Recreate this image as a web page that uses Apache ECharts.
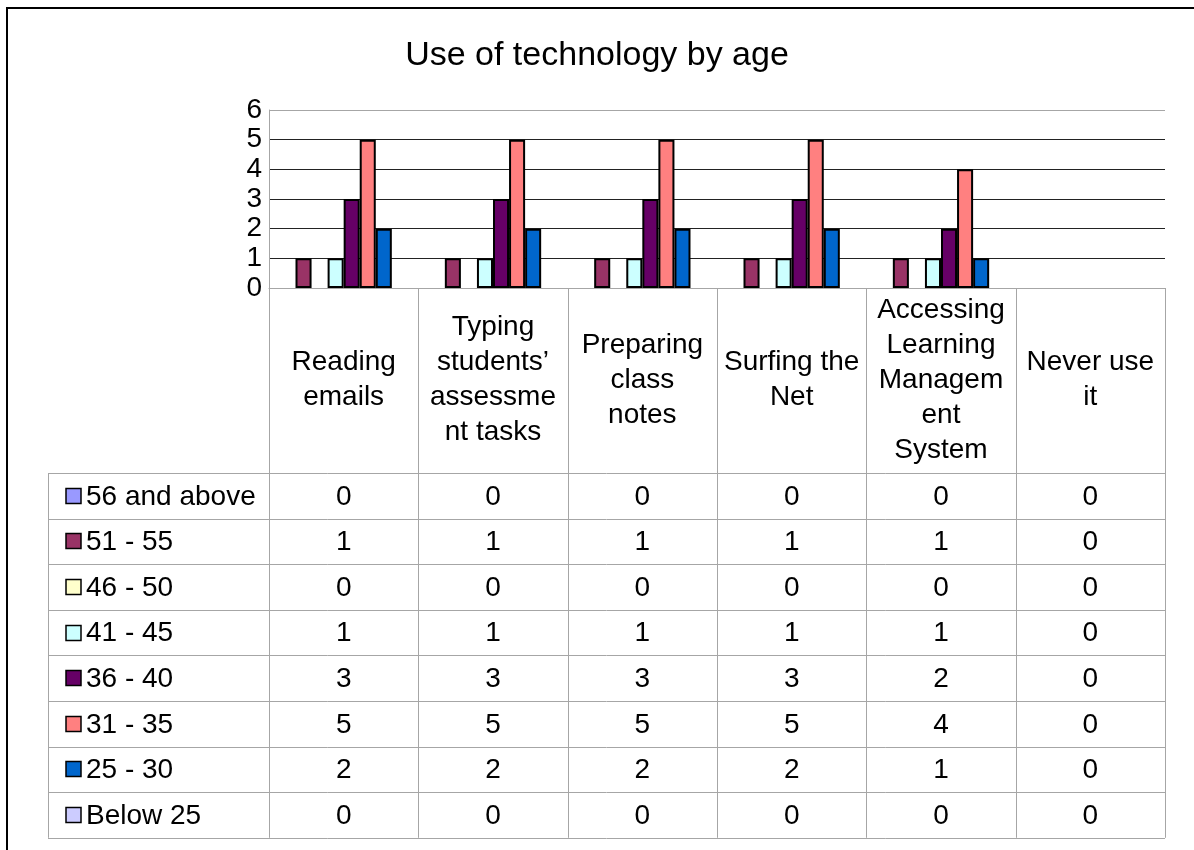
<!DOCTYPE html>
<html>
<head>
<meta charset="utf-8">
<script src="https://cdn.jsdelivr.net/npm/echarts@6/dist/echarts.min.js"></script>
<style>
  html, body { margin: 0; padding: 0; background: #fff; }
  #chart { width: 1194px; height: 850px; }
</style>
</head>
<body>
<div id="chart"></div>
<script>
// Activities (wrapped as they appear in the header row of the data table)
const categories = [
  'Reading\nemails',
  'Typing\nstudents\u2019\nassessme\nnt tasks',
  'Preparing\nclass\nnotes',
  'Surfing the\nNet',
  'Accessing\nLearning\nManagem\nent\nSystem',
  'Never use\nit'
];

// Age groups, in series order
const ageGroups = ['56 and above', '51 - 55', '46 - 50', '41 - 45', '36 - 40', '31 - 35', '25 - 30', 'Below 25'];
const groupColors = ['#9999FF', '#993366', '#FFFFCC', '#CCFFFF', '#660066', '#FF8080', '#0066CC', '#CCCCFF'];

// Counts per activity for each age group
const age56plus = [0, 0, 0, 0, 0, 0];
const age51to55 = [1, 1, 1, 1, 1, 0];
const age46to50 = [0, 0, 0, 0, 0, 0];
const age41to45 = [1, 1, 1, 1, 1, 0];
const age36to40 = [3, 3, 3, 3, 2, 0];
const age31to35 = [5, 5, 5, 5, 4, 0];
const age25to30 = [2, 2, 2, 2, 1, 0];
const ageBelow25 = [0, 0, 0, 0, 0, 0];
const seriesValues = [age56plus, age51to55, age46to50, age41to45, age36to40, age31to35, age25to30, ageBelow25];

// Value axis ticks
const yTicks = [0, 1, 2, 3, 4, 5, 6];

const FONT = "'Liberation Sans', Arial, sans-serif";

// Plot area geometry
const gridLeft = 269, gridRight = 1165, gridTop = 110, gridBottom = 288;
const headerBottom = 473;
const rowH = 45.6;
const labelColLeft = 48;
const tableLine = '#a6a6a6';

const chart = echarts.init(document.getElementById('chart'), null, { renderer: 'canvas' });

const series = ageGroups.map((name, i) => ({
  name,
  type: 'bar',
  barGap: '0%',
  barCategoryGap: '14%',
  data: seriesValues[i].map(v => ({
    value: v,
    itemStyle: v === 0 ? { borderWidth: 0 } : undefined
  })),
  itemStyle: { color: groupColors[i], borderColor: '#000', borderWidth: 2 },
  emphasis: { disabled: true },
  animation: false
}));

// Data table drawn under the plot
function buildTable() {
  const g = [];
  const catW = (gridRight - gridLeft) / categories.length;
  const tableBottom = headerBottom + rowH * ageGroups.length;

  // frame around the whole chart
  g.push({ type: 'rect', shape: { x: 7, y: 8, width: 1220, height: 900 },
    style: { fill: null, stroke: '#000', lineWidth: 2 }, silent: true });

  // column lines through header and rows
  for (let c = 0; c <= categories.length; c++) {
    const x = Math.round(gridLeft + c * catW) + 0.5;
    g.push({ type: 'line', shape: { x1: x, y1: gridBottom, x2: x, y2: tableBottom },
      style: { stroke: tableLine, lineWidth: 1 }, silent: true });
  }
  // left edge of label column
  g.push({ type: 'line', shape: { x1: labelColLeft + 0.5, y1: headerBottom, x2: labelColLeft + 0.5, y2: tableBottom },
    style: { stroke: tableLine, lineWidth: 1 }, silent: true });
  // row lines
  for (let r = 0; r <= ageGroups.length; r++) {
    const y = Math.round(headerBottom + r * rowH) + 0.5;
    g.push({ type: 'line', shape: { x1: labelColLeft, y1: y, x2: gridRight, y2: y },
      style: { stroke: tableLine, lineWidth: 1 }, silent: true });
  }
  // rows: legend key, name and values
  ageGroups.forEach((name, r) => {
    const cy = headerBottom + r * rowH + rowH / 2;
    g.push({ type: 'rect', shape: { x: 66, y: Math.round(cy - 8) + 0.5, width: 15, height: 15 },
      style: { fill: groupColors[r], stroke: '#000', lineWidth: 1.5 }, silent: true });
    g.push({ type: 'text', x: 86, y: cy + 1,
      style: { text: name, font: `28px ${FONT}`, fill: '#000', verticalAlign: 'middle', align: 'left' }, silent: true });
    seriesValues[r].forEach((v, c) => {
      g.push({ type: 'text', x: gridLeft + (c + 0.5) * catW, y: cy + 1,
        style: { text: String(v), font: `28px ${FONT}`, fill: '#000', verticalAlign: 'middle', align: 'center' }, silent: true });
    });
  });
  return g;
}

chart.setOption({
  animation: false,
  backgroundColor: '#fff',
  title: {
    text: 'Use of technology by age',
    left: 'center',
    top: 34,
    textStyle: { fontFamily: FONT, fontSize: 34, fontWeight: 'normal', color: '#000' }
  },
  grid: {
    left: gridLeft,
    right: 1194 - gridRight,
    top: gridTop,
    bottom: 850 - gridBottom,
    containLabel: false
  },
  xAxis: {
    type: 'category',
    data: categories,
    axisLine: { show: true, lineStyle: { color: tableLine, width: 1 } },
    axisTick: { show: false },
    axisLabel: {
      interval: 0,
      margin: 92,
      verticalAlign: 'middle',
      lineHeight: 35,
      fontFamily: FONT,
      fontSize: 28,
      color: '#000'
    }
  },
  yAxis: {
    type: 'value',
    min: yTicks[0],
    max: yTicks[yTicks.length - 1],
    interval: 1,
    axisLine: { show: true, lineStyle: { color: tableLine, width: 1 } },
    axisTick: { show: false },
    axisLabel: { margin: 7, fontFamily: FONT, fontSize: 28, color: '#000',
      formatter: v => String(v) },
    splitLine: { show: true, lineStyle: {
      color: ['#a6a6a6', '#222', '#222', '#222', '#222', '#222', '#a6a6a6'], width: 1 } }
  },
  legend: { show: false },
  series,
  graphic: buildTable()
});
</script>
</body>
</html>
